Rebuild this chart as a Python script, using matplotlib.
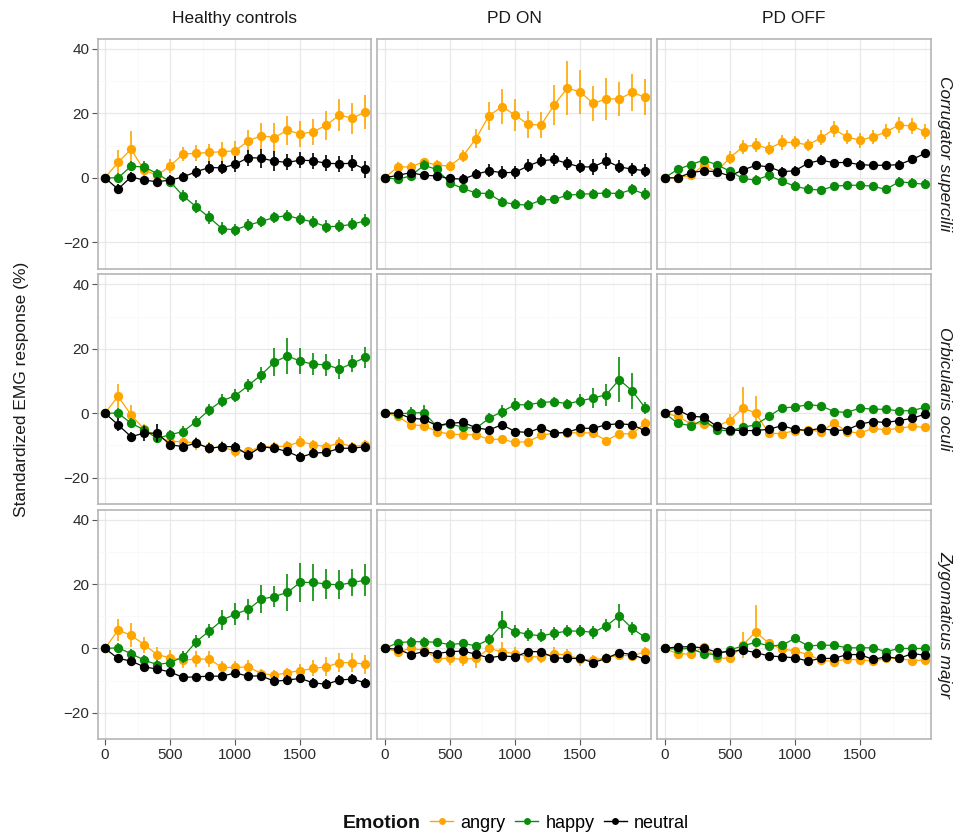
import matplotlib
matplotlib.use("Agg")
import matplotlib.pyplot as plt
from matplotlib.lines import Line2D
from matplotlib.ticker import MultipleLocator

plt.rcParams['font.family'] = ['Liberation Sans', 'DejaVu Sans']

# ---------------- data ----------------
time_ms = [0, 100, 200, 300, 400, 500, 600, 700, 800, 900, 1000,
           1100, 1200, 1300, 1400, 1500, 1600, 1700, 1800, 1900, 2000]

groups = ["Healthy controls", "PD ON", "PD OFF"]
muscles = ["Corrugator supercilii", "Orbicularis oculi", "Zygomaticus major"]
emotions = ["angry", "happy", "neutral"]
emotion_colors = ["#FFA500", "#0A8C0A", "#000000"]

# Corrugator supercilii
hc_corr_angry = [0, 4.8, 8.9, 2.4, 0.8, 3.7, 7.4, 7.6, 7.9, 8.1, 8.4, 11.5, 13.1, 12.5, 14.8, 13.6, 14.3, 16.4, 19.5, 18.5, 20.5]
hc_corr_angry_se = [0, 4, 5.7, 2, 1.5, 2.3, 2.3, 2.5, 2.7, 3, 3, 3.5, 4, 4.5, 4.5, 4, 4, 4.5, 5, 4.8, 5.2]
hc_corr_happy = [0, 0, 3.6, 3.4, 1.3, -1.2, -5.6, -9.0, -12.3, -15.8, -16.1, -14.7, -13.5, -12.3, -11.7, -12.8, -13.7, -15.2, -15.0, -14.4, -13.3]
hc_corr_happy_se = [0, 1.5, 1.5, 1.8, 1.5, 1.5, 1.8, 2, 2, 2, 1.8, 1.8, 1.8, 1.8, 1.8, 1.8, 1.8, 2, 1.8, 1.8, 2]
hc_corr_neutral = [0, -3.5, 0.3, -0.7, -1.2, -0.7, 0.3, 1.9, 3.2, 3.1, 4.2, 6.3, 6.1, 5.2, 4.8, 5.5, 5.3, 4.5, 4.4, 4.5, 2.6]
hc_corr_neutral_se = [0, 1.5, 1.5, 1.3, 1.5, 1.5, 1.5, 1.8, 2, 2, 2.5, 2.5, 3, 3, 2.5, 2.5, 2.5, 2.5, 2.5, 2.5, 2.5]

on_corr_angry = [0, 3.4, 3.4, 5.0, 3.9, 3.7, 6.8, 12.2, 19.3, 22.1, 19.5, 16.6, 16.4, 22.6, 27.8, 26.7, 23.1, 24.5, 24.5, 26.5, 25.0]
on_corr_angry_se = [0, 1.5, 1.5, 1.3, 1.5, 1.5, 2, 3, 4.3, 5.4, 5, 4.3, 4.1, 6.1, 8.4, 6.8, 5.4, 6.5, 5.4, 5.7, 5.6]
on_corr_happy = [0, -0.4, 0.6, 3.9, 2.6, -1.6, -3.3, -4.7, -4.9, -7.5, -8.2, -8.5, -6.9, -6.7, -5.4, -5.1, -4.9, -4.7, -4.9, -3.6, -5.1]
on_corr_happy_se = [0, 1, 1, 1.5, 1.5, 1.5, 1.5, 1.5, 1.5, 1.5, 1.5, 1.5, 1.5, 1.5, 1.5, 1.5, 1.5, 1.5, 1.5, 1.8, 1.8]
on_corr_neutral = [0, 0.8, 1.6, 0.8, 0.6, -0.2, -0.4, 1.1, 2.2, 1.6, 1.7, 3.7, 5.3, 5.7, 4.5, 3.4, 3.4, 5.3, 3.4, 2.7, 2.2]
on_corr_neutral_se = [0, 1, 1, 1, 1, 1.5, 1.5, 1.5, 2, 2, 2, 2, 2, 2, 2, 2, 2.5, 2.5, 2, 2, 2]

off_corr_angry = [0, 0, 0.8, 3.9, 1.9, 6.2, 9.6, 10.2, 9.1, 11.0, 11.0, 10.2, 12.4, 15.1, 12.7, 11.7, 12.7, 14.3, 16.4, 16.1, 14.3]
off_corr_angry_se = [0, 1, 1, 1.5, 1.5, 2, 2.3, 2.3, 2, 2.3, 2, 2, 2.3, 2.5, 2.3, 2.3, 2.3, 2.3, 2.5, 2.5, 2.3]
off_corr_happy = [0, 2.6, 4.1, 5.5, 4.1, 2.1, -0.2, -0.7, 0.8, -1.0, -2.6, -3.5, -3.8, -2.6, -2.3, -2.3, -2.6, -3.6, -1.2, -1.6, -2.0]
off_corr_happy_se = [0, 1, 1, 1, 1, 1.3, 1.3, 1.5, 1.8, 1.5, 1.5, 1.5, 1.3, 1.3, 1.3, 1.3, 1.3, 1.5, 1.5, 1.5, 1.5]
off_corr_neutral = [0, 0, 1.6, 2.2, 1.9, 0.6, 2.4, 3.9, 3.4, 1.9, 2.2, 4.5, 5.5, 4.7, 4.8, 4.1, 3.9, 3.9, 4.1, 5.7, 7.6]
off_corr_neutral_se = [0, 0.8, 1, 1, 1, 1.3, 1.3, 1.3, 1.3, 1.5, 1.5, 1.5, 1.5, 1.3, 1.3, 1.3, 1.3, 1.3, 1.3, 1.5, 1.5]

# Orbicularis oculi
hc_orb_angry = [0, 5.2, -0.5, -5.0, -7.3, -8.8, -8.8, -9.3, -10.9, -10.4, -11.9, -11.9, -10.4, -10.4, -10.2, -8.8, -9.8, -10.4, -9.3, -10.4, -9.8]
hc_orb_angry_se = [0, 3.7, 3, 1.5, 1.5, 1.5, 1.5, 2, 1.8, 1.8, 1.8, 1.5, 1.5, 1.5, 1.5, 1.8, 1.5, 1.5, 1.8, 1.5, 1.5]
hc_orb_happy = [0, 0, -3.1, -5.2, -7.8, -6.7, -5.7, -2.6, 1.0, 3.9, 5.4, 8.6, 11.9, 15.8, 17.8, 16.1, 15.2, 15.0, 13.7, 15.5, 17.3]
hc_orb_happy_se = [0, 1.5, 1.5, 1.5, 1.5, 1.5, 1.8, 1.8, 1.8, 2, 2, 2, 2.5, 4.4, 5.5, 4.1, 3.5, 3.5, 3.1, 2.7, 3.2]
hc_orb_neutral = [0, -3.6, -7.3, -6.2, -6.2, -9.8, -10.4, -9.3, -10.9, -10.4, -10.4, -13.0, -10.4, -10.9, -11.9, -13.7, -12.4, -12.2, -10.9, -10.9, -10.4]
hc_orb_neutral_se = [0, 2, 1.5, 2.3, 2.8, 1.5, 1.5, 1.5, 1.5, 1.5, 1.5, 1.5, 1.5, 1.5, 1.5, 1.5, 1.5, 1.5, 1.5, 1.5, 1.5]

on_orb_angry = [0, -1.0, -3.6, -3.9, -5.7, -6.5, -6.7, -6.7, -8.1, -8.1, -9.1, -8.8, -6.9, -6.2, -6.2, -6.0, -6.2, -8.5, -6.4, -6.4, -3.1]
on_orb_angry_se = [0, 1, 1, 1, 1, 1, 1, 1, 1, 1, 1, 1, 1, 1, 1, 1, 1, 1, 1, 1, 1.5]
on_orb_happy = [0, -0.2, 0, 0.2, -4.1, -3.3, -4.4, -4.7, -1.6, 0.5, 2.6, 2.6, 3.3, 3.6, 2.9, 3.8, 4.7, 5.7, 10.4, 6.9, 1.6]
on_orb_happy_se = [0, 1, 1.8, 2.3, 1, 1, 1, 1, 1.5, 2, 2, 1.5, 1.5, 1.5, 1.5, 2, 3.1, 3.5, 7, 5.5, 1.8]
on_orb_neutral = [0, 0, -1.6, -1.9, -3.9, -3.1, -2.9, -4.5, -5.2, -3.6, -5.7, -6.0, -4.5, -6.2, -5.9, -4.7, -4.7, -3.6, -3.3, -3.6, -5.5]
on_orb_neutral_se = [0, 1, 1, 1, 1, 1, 1, 1, 1, 1, 1, 1, 1, 1, 1, 1, 1, 1, 1, 1, 1]

off_orb_angry = [0, -1.0, -3.3, -3.3, -4.1, -2.3, 1.6, 0, -6.2, -6.4, -5.4, -5.2, -5.7, -3.1, -5.7, -6.2, -4.7, -5.2, -4.7, -4.1, -4.4]
off_orb_angry_se = [0, 1, 1, 1, 1, 2, 6.4, 5.2, 1, 1, 1, 1, 1, 1, 1, 1, 1, 1, 1, 1, 1]
off_orb_happy = [0, -3.1, -3.9, -2.1, -5.2, -5.5, -4.4, -3.6, -1.0, 1.6, 1.9, 2.6, 2.3, 0.5, 0.2, 1.6, 1.2, 1.2, 0.7, 0.8, 1.8]
off_orb_happy_se = [0, 1, 1, 1, 1, 1, 1, 1, 1, 1, 1, 1, 1, 1, 1, 1, 1, 1, 1, 1, 1]
off_orb_neutral = [0, 1.0, -1.0, -1.2, -4.1, -5.2, -5.4, -5.4, -5.0, -3.9, -5.0, -5.4, -4.7, -5.4, -5.2, -3.4, -2.6, -2.9, -2.3, -1.6, -0.3]
off_orb_neutral_se = [0, 1, 1, 1, 1, 1, 1, 1, 1, 1, 1, 1, 1, 1, 1, 1, 1, 1, 1, 1, 1]

# Zygomaticus major
hc_zyg_angry = [0, 5.7, 4.1, 1.2, -1.9, -2.9, -3.6, -3.3, -3.3, -5.9, -5.9, -5.7, -7.8, -8.3, -7.5, -6.9, -6.2, -5.7, -4.4, -4.4, -4.9]
hc_zyg_angry_se = [0, 3.4, 3.7, 2.5, 2.5, 2.5, 2.5, 2.5, 2.5, 2, 2, 2, 1.5, 1.5, 1.5, 2, 2.5, 3, 3, 3, 3]
hc_zyg_happy = [0, 0.2, -1.6, -3.6, -5.0, -4.4, -2.6, 2.1, 5.4, 8.8, 10.7, 12.1, 15.3, 16.1, 17.4, 20.5, 20.5, 20.0, 19.7, 20.5, 21.2]
hc_zyg_happy_se = [0, 1.5, 1.5, 1.5, 1.5, 1.5, 1.8, 2, 2.3, 3.1, 3.3, 3.2, 4.3, 3.2, 5.7, 6, 5.8, 4.7, 4.5, 4.2, 4.9]
hc_zyg_neutral = [0, -3.1, -3.9, -5.7, -6.4, -7.3, -9.0, -8.8, -8.6, -8.6, -7.6, -8.6, -8.5, -10.2, -9.8, -9.3, -10.7, -11.1, -9.8, -9.5, -10.7]
hc_zyg_neutral_se = [0, 1.5, 1.5, 1.3, 1.5, 1.5, 1.3, 1.3, 1.3, 1.3, 1.3, 1.3, 1.3, 1.5, 1.5, 1.5, 1.5, 1.5, 1.5, 1.5, 1.5]

on_zyg_angry = [0, -1.0, 0, -0.5, -3.1, -3.1, -3.3, -3.1, 0, -1.0, -1.6, -2.6, -2.6, -1.6, -2.1, -3.3, -3.6, -2.9, -2.1, -2.3, -1.0]
on_zyg_angry_se = [0, 1, 1, 1, 1.5, 2, 2, 3, 2, 3, 2, 2, 2, 2, 2, 2, 1.5, 1.5, 1.5, 1.5, 1.5]
on_zyg_happy = [0, 1.8, 2.1, 2.1, 1.9, 1.2, 1.6, 0.8, 2.8, 7.5, 5.2, 4.4, 3.9, 4.7, 5.4, 5.4, 5.0, 7.0, 10.1, 6.2, 3.4]
on_zyg_happy_se = [0, 1, 1.5, 1.3, 1.3, 1.3, 1.3, 1.3, 1.8, 4.2, 2, 2, 2, 2, 2, 2, 2, 2, 3.6, 2, 1.5]
on_zyg_neutral = [0, -0.2, -1.9, -1.0, -1.6, -1.0, -0.8, -1.8, -2.9, -2.3, -2.6, -1.0, -1.0, -2.9, -3.1, -3.1, -4.4, -3.1, -1.3, -1.9, -3.4]
on_zyg_neutral_se = [0, 1, 1, 1, 1, 1, 1, 1, 1, 1, 1, 1, 1, 1, 1, 1, 1, 1, 1, 1, 1]

off_zyg_angry = [0, -1.6, -1.8, 0.5, -2.9, -3.1, 1.0, 5.2, 1.6, -0.2, -0.7, -1.9, -3.6, -4.1, -3.3, -3.6, -3.9, -3.1, -3.1, -3.8, -3.6]
off_zyg_angry_se = [0, 1, 1, 1, 1, 1, 4, 8.4, 1.3, 1, 1, 1, 1, 1, 1, 1, 1, 1, 1, 1, 1]
off_zyg_happy = [0, -0.2, 0, -1.6, -1.9, -0.5, 0.8, 1.9, 0.8, 1.0, 3.1, 0.8, 1.0, 1.0, 0.2, 0.2, 0.2, -1.0, 0, 0, 0]
off_zyg_happy_se = [0, 1, 1, 1, 1, 1, 1, 1, 1, 1, 1, 1, 1, 1, 1, 1, 1, 1, 1, 1, 1]
off_zyg_neutral = [0, 0.5, 0.5, 0.2, -1.2, -1.0, -0.5, -1.3, -2.3, -2.6, -2.9, -3.9, -3.1, -3.1, -1.9, -1.9, -3.4, -2.6, -3.1, -1.6, -2.1]
off_zyg_neutral_se = [0, 1, 1, 1, 1, 1, 1, 1, 1, 1, 1, 1, 1, 1, 1, 1, 1, 1, 1, 1, 1]

x_ticks = [0, 500, 1000, 1500]
y_ticks = [-20, 0, 20, 40]

# table: [muscle][group] -> list of (mean, se) per emotion
table = [
    [[(hc_corr_angry, hc_corr_angry_se), (hc_corr_happy, hc_corr_happy_se), (hc_corr_neutral, hc_corr_neutral_se)],
     [(on_corr_angry, on_corr_angry_se), (on_corr_happy, on_corr_happy_se), (on_corr_neutral, on_corr_neutral_se)],
     [(off_corr_angry, off_corr_angry_se), (off_corr_happy, off_corr_happy_se), (off_corr_neutral, off_corr_neutral_se)]],
    [[(hc_orb_angry, hc_orb_angry_se), (hc_orb_happy, hc_orb_happy_se), (hc_orb_neutral, hc_orb_neutral_se)],
     [(on_orb_angry, on_orb_angry_se), (on_orb_happy, on_orb_happy_se), (on_orb_neutral, on_orb_neutral_se)],
     [(off_orb_angry, off_orb_angry_se), (off_orb_happy, off_orb_happy_se), (off_orb_neutral, off_orb_neutral_se)]],
    [[(hc_zyg_angry, hc_zyg_angry_se), (hc_zyg_happy, hc_zyg_happy_se), (hc_zyg_neutral, hc_zyg_neutral_se)],
     [(on_zyg_angry, on_zyg_angry_se), (on_zyg_happy, on_zyg_happy_se), (on_zyg_neutral, on_zyg_neutral_se)],
     [(off_zyg_angry, off_zyg_angry_se), (off_zyg_happy, off_zyg_happy_se), (off_zyg_neutral, off_zyg_neutral_se)]],
]

# ---------------- layout ----------------
W, H = 962, 838
fig = plt.figure(figsize=(W / 100, H / 100), dpi=100)
fig.patch.set_facecolor("white")

col_left = [97.7, 377.5, 657.3]
col_w = 273.5
row_top = [39.0, 274.3, 509.6]
row_h = 229.7

border_col = "#b5b5b5"
grid_major = "#e8e8e8"
grid_minor = "#f8f8f8"
tick_text = "#2b2b2b"

for r in range(3):
    for c in range(3):
        ax = fig.add_axes([col_left[c] / W, 1 - (row_top[r] + row_h) / H, col_w / W, row_h / H])
        ax.set_xlim(-56, 2044)
        ax.set_ylim(-28.2, 43.1)
        ax.set_xticks(x_ticks)
        ax.set_yticks(y_ticks)
        ax.xaxis.set_minor_locator(MultipleLocator(250))
        ax.yaxis.set_minor_locator(MultipleLocator(10))
        ax.grid(which="major", color=grid_major, linewidth=0.9)
        ax.grid(which="minor", color=grid_minor, linewidth=0.6)
        ax.set_axisbelow(True)
        for sp in ax.spines.values():
            sp.set_color(border_col)
            sp.set_linewidth(1.2)
        ax.tick_params(which="minor", length=0)
        ax.tick_params(which="major", length=4, width=0.8, color="#555555",
                       labelsize=11, labelcolor=tick_text, pad=2)
        if c != 0:
            ax.tick_params(axis="y", which="major", length=0, labelleft=False)
        if r != 2:
            ax.tick_params(axis="x", which="major", length=0, labelbottom=False)
        else:
            ax.set_xticklabels([str(v) for v in x_ticks])
        if c == 0:
            ax.set_yticklabels(["\u221220" if v < 0 else str(v) for v in y_ticks])

        for e in range(3):
            mean, se = table[r][c][e]
            ax.errorbar(time_ms, mean, yerr=se, color=emotion_colors[e],
                        linewidth=0.9, elinewidth=1.2, capsize=2.5, capthick=1.2,
                        marker="o", markersize=6.7, markeredgewidth=0,
                        zorder=3 + e)

        if r == 0:
            ax.text(0.5, 1 + 20 / row_h, groups[c], transform=ax.transAxes,
                    ha="center", va="center", fontsize=12.5, color="#1a1a1a")
        if c == 2:
            ax.text(1 + 14 / col_w, 0.5, muscles[r], transform=ax.transAxes,
                    ha="center", va="center", rotation=-90, fontsize=12.5,
                    style="italic", color="#1a1a1a")

fig.text(22 / W, 1 - 389 / H, "Standardized EMG response (%)", rotation=90,
         ha="center", va="center", fontsize=12.5, color="#1a1a1a")

# legend
fig.text(382 / W, 1 - 823 / H, "Emotion", ha="center", va="center",
         fontsize=14, fontweight="bold", color="#111111")
handles = [Line2D([0], [0], color=emotion_colors[e], linewidth=1.0, marker="o",
                  markersize=5, markeredgewidth=0) for e in range(3)]
fig.legend(handles, emotions, loc="center left",
           bbox_to_anchor=(430 / W, 1 - 823 / H), ncol=3, frameon=False,
           fontsize=13, handlelength=1.3, handletextpad=0.4,
           columnspacing=0.5, borderaxespad=0, borderpad=0)

fig.savefig("out.png", dpi=100, facecolor="white")
